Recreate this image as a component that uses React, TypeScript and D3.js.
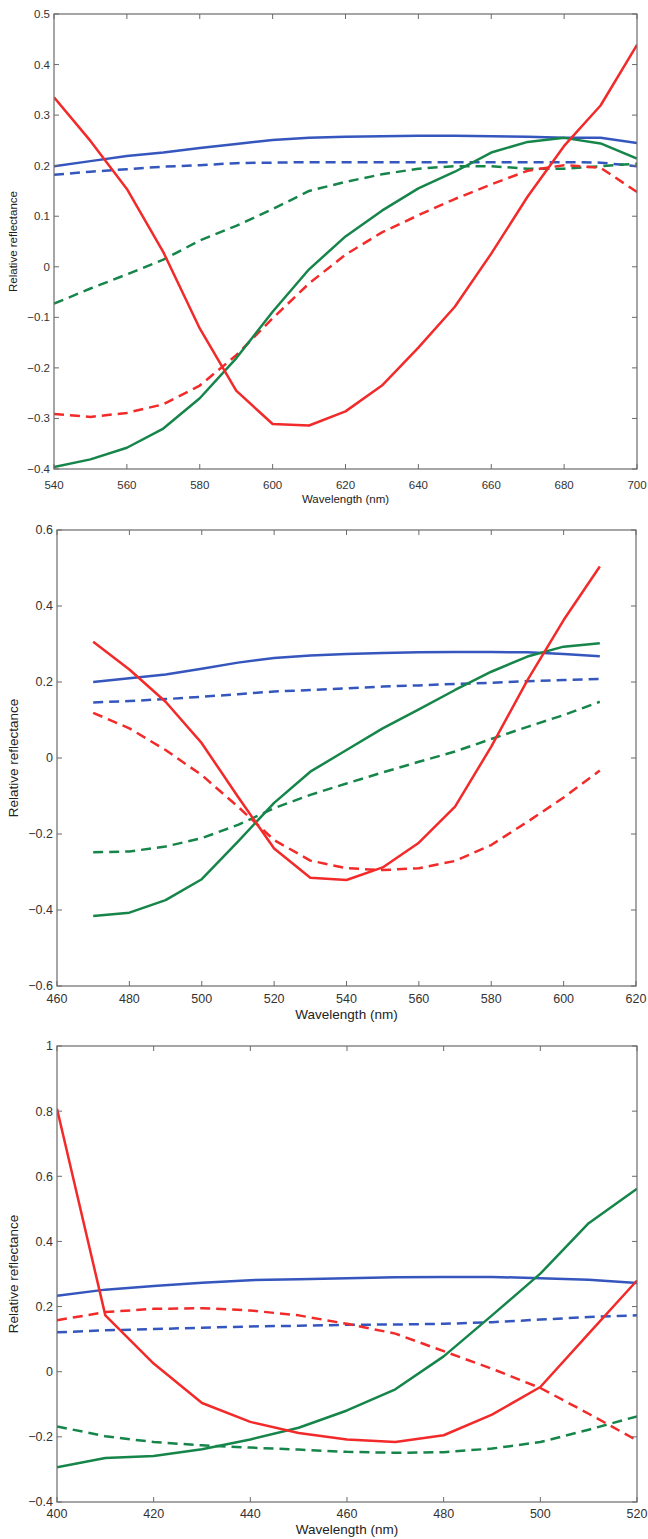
import React from "react";
import * as d3 from "d3";

// ---------- Panel 1 data (540–700 nm) ----------
const wl1 = [540, 550, 560, 570, 580, 590, 600, 610, 620, 630, 640, 650, 660, 670, 680, 690, 700];
const p1RedSolid = [0.335, 0.249, 0.154, 0.029, -0.122, -0.245, -0.311, -0.314, -0.286, -0.235, -0.16, -0.079, 0.026, 0.139, 0.239, 0.319, 0.439];
const p1RedDash = [-0.291, -0.297, -0.289, -0.272, -0.235, -0.175, -0.102, -0.033, 0.024, 0.068, 0.102, 0.134, 0.163, 0.19, 0.201, 0.196, 0.148];
const p1GreenSolid = [-0.396, -0.381, -0.358, -0.32, -0.26, -0.181, -0.089, -0.005, 0.06, 0.111, 0.155, 0.188, 0.226, 0.247, 0.255, 0.244, 0.214];
const p1GreenDash = [-0.073, -0.043, -0.015, 0.014, 0.052, 0.081, 0.114, 0.15, 0.168, 0.183, 0.194, 0.199, 0.199, 0.194, 0.194, 0.199, 0.204];
const p1BlueSolid = [0.199, 0.209, 0.219, 0.226, 0.235, 0.243, 0.251, 0.255, 0.257, 0.258, 0.259, 0.259, 0.258, 0.257, 0.255, 0.255, 0.245];
const p1BlueDash = [0.182, 0.188, 0.193, 0.198, 0.201, 0.205, 0.206, 0.207, 0.207, 0.207, 0.207, 0.207, 0.207, 0.207, 0.207, 0.206, 0.199];
const p1XTicks = [540, 560, 580, 600, 620, 640, 660, 680, 700];
const p1YTicks = [0.5, 0.4, 0.3, 0.2, 0.1, 0, -0.1, -0.2, -0.3, -0.4];

// ---------- Panel 2 data (470–610 nm) ----------
const wl2 = [470, 480, 490, 500, 510, 520, 530, 540, 550, 560, 570, 580, 590, 600, 610];
const p2RedSolid = [0.306, 0.233, 0.148, 0.039, -0.102, -0.238, -0.315, -0.321, -0.288, -0.223, -0.128, 0.03, 0.205, 0.363, 0.504];
const p2RedDash = [0.119, 0.078, 0.021, -0.045, -0.128, -0.216, -0.27, -0.29, -0.295, -0.29, -0.271, -0.229, -0.168, -0.104, -0.033];
const p2GreenSolid = [-0.416, -0.407, -0.374, -0.319, -0.22, -0.118, -0.036, 0.021, 0.078, 0.128, 0.179, 0.227, 0.267, 0.293, 0.302];
const p2GreenDash = [-0.248, -0.246, -0.233, -0.211, -0.176, -0.132, -0.097, -0.067, -0.038, -0.01, 0.017, 0.05, 0.082, 0.113, 0.148];
const p2BlueSolid = [0.2, 0.21, 0.22, 0.235, 0.251, 0.263, 0.27, 0.274, 0.276, 0.278, 0.279, 0.279, 0.278, 0.274, 0.268];
const p2BlueDash = [0.146, 0.15, 0.155, 0.161, 0.168, 0.175, 0.179, 0.183, 0.188, 0.191, 0.195, 0.198, 0.202, 0.205, 0.208];
const p2XTicks = [460, 480, 500, 520, 540, 560, 580, 600, 620];
const p2YTicks = [0.6, 0.4, 0.2, 0, -0.2, -0.4, -0.6];

// ---------- Panel 3 data (400–520 nm) ----------
const wl3 = [400, 410, 420, 430, 440, 450, 460, 470, 480, 490, 500, 510, 520];
const p3RedSolid = [0.807, 0.173, 0.025, -0.096, -0.154, -0.188, -0.208, -0.216, -0.195, -0.132, -0.047, 0.117, 0.28];
const p3RedDash = [0.158, 0.183, 0.193, 0.195, 0.188, 0.173, 0.147, 0.117, 0.063, 0.009, -0.05, -0.129, -0.211];
const p3GreenSolid = [-0.293, -0.265, -0.259, -0.238, -0.208, -0.172, -0.119, -0.054, 0.047, 0.173, 0.301, 0.456, 0.562];
const p3GreenDash = [-0.168, -0.198, -0.216, -0.226, -0.233, -0.239, -0.246, -0.249, -0.247, -0.236, -0.216, -0.178, -0.137];
const p3BlueSolid = [0.233, 0.252, 0.263, 0.273, 0.281, 0.284, 0.287, 0.29, 0.291, 0.291, 0.287, 0.282, 0.272];
const p3BlueDash = [0.121, 0.127, 0.131, 0.135, 0.139, 0.141, 0.144, 0.145, 0.147, 0.152, 0.16, 0.168, 0.173];
const p3XTicks = [400, 420, 440, 460, 480, 500, 520];
const p3YTicks = [1, 0.8, 0.6, 0.4, 0.2, 0, -0.2, -0.4];

const RED = "#f22a2a";
const GREEN = "#16854a";
const BLUE = "#3556bd";
const AXIS = "#6b6b6b";
const FONT = "'Liberation Sans', Arial, Helvetica, sans-serif";

type Series = { values: number[]; color: string; dashed: boolean };

type PanelProps = {
  x0: number; x1: number; y0: number; y1: number;
  xDomain: [number, number]; yDomain: [number, number];
  wl: number[]; series: Series[];
  xTicks: number[]; yTicks: number[];
  tickFont: number; labelFont: number;
  xTickY: number; xLabelY: number; yLabelX: number;
};

const fmt = (v: number) => {
  const s = Math.abs(v) < 1e-9 ? "0" : String(Math.round(v * 10) / 10);
  return s.startsWith("-") ? "\u2212" + s.slice(1) : s;
};

function Panel(p: PanelProps) {
  const x = d3.scaleLinear().domain(p.xDomain).range([p.x0, p.x1]);
  const y = d3.scaleLinear().domain(p.yDomain).range([p.y1, p.y0]);
  const line = d3
    .line<number>()
    .x((_, i) => x(p.wl[i]))
    .y((d) => y(d));
  const tl = 5;
  return (
    <g>
      <defs>
        <clipPath id={`clip-${p.y0}`}>
          <rect x={p.x0} y={p.y0} width={p.x1 - p.x0} height={p.y1 - p.y0} />
        </clipPath>
      </defs>
      <g clipPath={`url(#clip-${p.y0})`}>
        {p.series.map((s, i) => (
          <path
            key={i}
            d={line(s.values) || ""}
            fill="none"
            stroke={s.color}
            strokeWidth={2.5}
            strokeDasharray={s.dashed ? "10,6" : undefined}
            strokeLinejoin="round"
          />
        ))}
      </g>
      <rect x={p.x0} y={p.y0} width={p.x1 - p.x0} height={p.y1 - p.y0} fill="none" stroke={AXIS} strokeWidth={1.2} />
      {p.xTicks.map((t) => (
        <g key={"x" + t}>
          <line x1={x(t)} x2={x(t)} y1={p.y1} y2={p.y1 - tl} stroke={AXIS} />
          <line x1={x(t)} x2={x(t)} y1={p.y0} y2={p.y0 + tl} stroke={AXIS} />
          <text x={x(t)} y={p.xTickY} textAnchor="middle" fontSize={p.tickFont} fontFamily={FONT} fill="#333">
            {fmt(t)}
          </text>
        </g>
      ))}
      {p.yTicks.map((t) => (
        <g key={"y" + t}>
          <line x1={p.x0} x2={p.x0 + tl} y1={y(t)} y2={y(t)} stroke={AXIS} />
          <line x1={p.x1} x2={p.x1 - tl} y1={y(t)} y2={y(t)} stroke={AXIS} />
          <text x={p.x0 - 4} y={y(t)} dy="0.35em" textAnchor="end" fontSize={p.tickFont} fontFamily={FONT} fill="#333">
            {fmt(t)}
          </text>
        </g>
      ))}
      <text x={(p.x0 + p.x1) / 2} y={p.xLabelY} textAnchor="middle" fontSize={p.labelFont} fontFamily={FONT} fill="#222">
        Wavelength (nm)
      </text>
      <text
        transform={`translate(${p.yLabelX},${(p.y0 + p.y1) / 2}) rotate(-90)`}
        textAnchor="middle"
        fontSize={p.labelFont}
        fontFamily={FONT}
        fill="#222"
      >
        Relative reflectance
      </text>
    </g>
  );
}

const mk = (r: number[], rd: number[], g: number[], gd: number[], b: number[], bd: number[]): Series[] => [
  { values: bd, color: BLUE, dashed: true },
  { values: gd, color: GREEN, dashed: true },
  { values: rd, color: RED, dashed: true },
  { values: b, color: BLUE, dashed: false },
  { values: g, color: GREEN, dashed: false },
  { values: r, color: RED, dashed: false },
];

export default function App() {
  return (
    <svg width={648} height={1539} style={{ position: "absolute", left: 0, top: 0, background: "#fff" }}>
      <rect width={648} height={1539} fill="#fff" />
      <Panel
        x0={54} x1={637} y0={14} y1={469}
        xDomain={[540, 700]} yDomain={[-0.4, 0.5]}
        wl={wl1}
        series={mk(p1RedSolid, p1RedDash, p1GreenSolid, p1GreenDash, p1BlueSolid, p1BlueDash)}
        xTicks={p1XTicks} yTicks={p1YTicks}
        tickFont={11.5} labelFont={11.5}
        xTickY={489} xLabelY={503} yLabelX={17}
      />
      <Panel
        x0={57} x1={636} y0={530} y1={986}
        xDomain={[460, 620]} yDomain={[-0.6, 0.6]}
        wl={wl2}
        series={mk(p2RedSolid, p2RedDash, p2GreenSolid, p2GreenDash, p2BlueSolid, p2BlueDash)}
        xTicks={p2XTicks} yTicks={p2YTicks}
        tickFont={12.5} labelFont={13.5}
        xTickY={1003} xLabelY={1019} yLabelX={18}
      />
      <Panel
        x0={57} x1={637} y0={1046} y1={1502}
        xDomain={[400, 520]} yDomain={[-0.4, 1]}
        wl={wl3}
        series={mk(p3RedSolid, p3RedDash, p3GreenSolid, p3GreenDash, p3BlueSolid, p3BlueDash)}
        xTicks={p3XTicks} yTicks={p3YTicks}
        tickFont={12.5} labelFont={13.5}
        xTickY={1518} xLabelY={1534} yLabelX={18}
      />
    </svg>
  );
}
